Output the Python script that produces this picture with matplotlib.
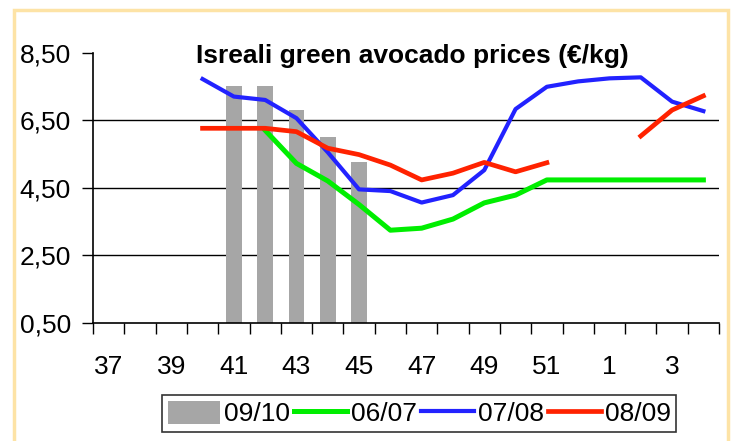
import matplotlib
matplotlib.use("Agg")
import matplotlib.pyplot as plt
import numpy as np
from matplotlib.patches import Rectangle

plt.rcParams['font.family'] = ['Liberation Sans', 'DejaVu Sans']

nan = np.nan
weeks = [str(w) for w in range(37, 53)] + ['1', '2', '3', '4']

# weekly prices, EUR/kg
s0910 = [nan, nan, nan, nan, 7.5, 7.5, 6.8, 6.0, 5.25, nan,
         nan, nan, nan, nan, nan, nan, nan, nan, nan, nan]
s0607 = [nan, nan, nan, nan, nan, 6.2, 5.22, 4.7, 4.0, 3.24,
         3.3, 3.57, 4.05, 4.28, 4.73, 4.73, 4.73, 4.73, 4.73, 4.73]
s0708 = [nan, nan, nan, 7.72, 7.2, 7.1, 6.56, 5.55, 4.45, 4.4,
         4.06, 4.28, 5.02, 6.83, 7.49, 7.65, 7.74, 7.77, 7.05, 6.77]
s0809 = [nan, nan, nan, 6.26, 6.26, 6.26, 6.16, 5.67, 5.48, 5.17,
         4.73, 4.93, 5.25, 4.97, 5.24, nan, nan, 6.03, 6.8, 7.22]

yticks = [0.5, 2.5, 4.5, 6.5, 8.5]
ylabels = ['0,50', '2,50', '4,50', '6,50', '8,50']

x = np.arange(len(weeks))

fig = plt.figure(figsize=(7.34, 4.41), dpi=100)
ax = fig.add_axes([0.1267, 0.2683, 0.8529, 0.6122])

# outer frame
fig.patches.append(Rectangle((14/734, -0.05), (728-14)/734, 1 - 10/441 + 0.05,
                             transform=fig.transFigure, fill=False,
                             edgecolor='#FDE3A6', linewidth=2.5))

for yv in [2.5, 4.5, 6.5]:
    ax.axhline(yv, color='black', linewidth=1, zorder=1)

ax.bar(x, s0910, width=0.5, color='#A6A6A6', label='09/10', zorder=2)
ax.plot(x, s0607, color='#00EE00', linewidth=3.6, label='06/07', zorder=3)
ax.plot(x, s0708, color='#2222FF', linewidth=3.0, label='07/08', zorder=3)
ax.plot(x, s0809, color='#FF2200', linewidth=3.4, label='08/09', zorder=3)

ax.set_xlim(-0.5, len(weeks) - 0.5)
ax.set_ylim(0.5, 8.5)
ax.set_yticks(yticks)
ax.set_yticklabels(ylabels, fontsize=19)

# ticks between categories, labels on every other week
ax.set_xticks(np.arange(-0.5, len(weeks)), minor=False)
ax.set_xticklabels([])
ax.set_xticks(x[::2], minor=True)
ax.set_xticklabels(weeks[::2], minor=True, fontsize=19)
ax.tick_params(axis='x', which='major', direction='out', length=8, width=1)
ax.tick_params(axis='x', which='minor', length=0, pad=23)
ax.tick_params(axis='y', direction='out', length=8, width=1, pad=8)

for side in ['top', 'right']:
    ax.spines[side].set_visible(False)
for side in ['left', 'bottom']:
    ax.spines[side].set_linewidth(1.2)

ax.set_title('Isreali green avocado prices (€/kg)', fontsize=19, fontweight='bold',
             x=0.51, y=0.93)

handles, labels = ax.get_legend_handles_labels()
order = [labels.index(l) for l in ['09/10', '06/07', '07/08', '08/09']]
leg = fig.legend([handles[i] for i in order], [labels[i] for i in order],
                 loc='center', bbox_to_anchor=(0.571, 0.062), ncol=4,
                 fontsize=19, frameon=True, fancybox=False, edgecolor='black',
                 handlelength=2.0, handleheight=0.95, handletextpad=0.15,
                 columnspacing=0.15, borderpad=0.22, borderaxespad=0)
leg.get_frame().set_linewidth(1.2)

fig.savefig('out.png', dpi=100)
